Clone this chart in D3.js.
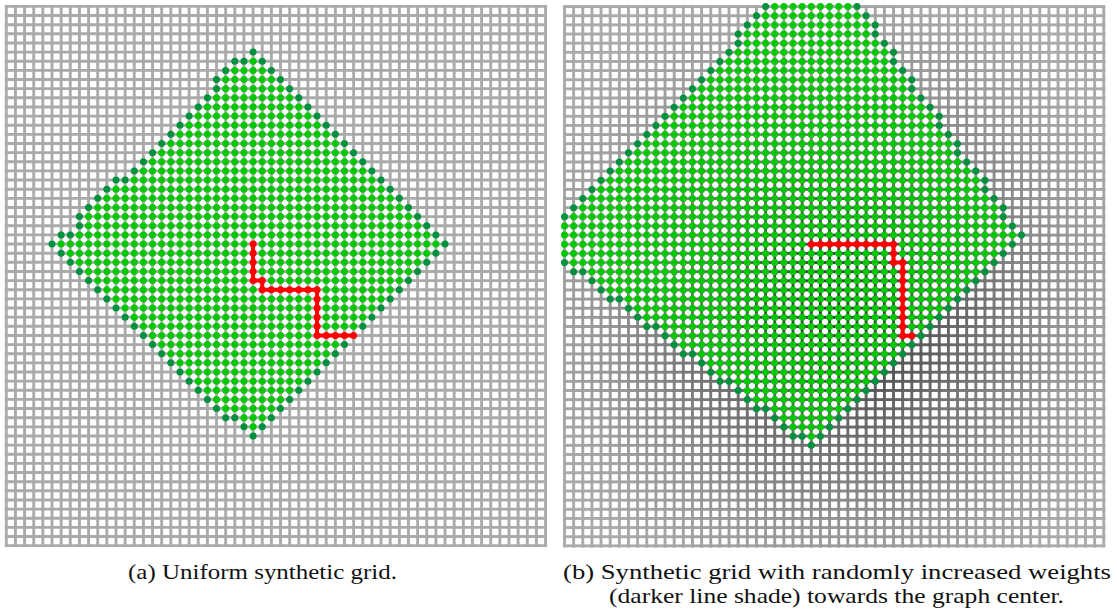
<!DOCTYPE html>
<html>
<head>
<meta charset="utf-8">
<script src="https://cdn.jsdelivr.net/npm/d3@7"></script>
<style>
  html, body { margin: 0; padding: 0; background: #fff; }
  svg { display: block; }
</style>
</head>
<body>
<svg id="fig" width="1117" height="615"></svg>
<script>
// 60 x 60 grid graph, nodes addressed as [column, row]
const gridSize = 60;

// (a) visited region: [row, first column, last column]
const regionA = [
  [5,27,27],[6,25,28],[7,24,29],[8,23,30],[9,23,31],[10,22,32],[11,21,33],
  [12,20,34],[13,19,35],[14,18,36],[15,17,37],[16,16,38],[17,15,39],[18,14,40],
  [19,12,41],[20,11,42],[21,10,43],[22,9,44],[23,8,45],[24,8,46],[25,6,47],
  [26,5,48],[27,6,47],[28,7,46],[29,8,45],[30,9,44],[31,10,43],[32,11,42],
  [33,12,41],[34,13,40],[35,14,39],[36,15,38],[37,16,37],[38,17,36],[39,18,35],
  [40,19,34],[41,20,33],[42,21,32],[43,22,31],[44,23,30],[45,24,29],[46,26,28],
  [47,27,27]
];
// (a) shortest path
const pathA = [[27,26],[27,30],[28,30],[28,31],[34,31],[34,36],[38,36]];

// (b) visited region: [row, first column, last column]
const regionB = [
  [0,22,32],[1,21,33],[2,20,34],[3,19,34],[4,19,35],[5,18,36],[6,17,36],
  [7,16,37],[8,15,38],[9,14,38],[10,13,39],[11,12,40],[12,11,41],[13,10,41],
  [14,9,42],[15,8,43],[16,7,43],[17,6,44],[18,5,45],[19,4,46],[20,3,46],
  [21,2,47],[22,1,48],[23,0,48],[24,0,49],[25,0,50],[26,0,49],[27,0,48],
  [28,0,47],[29,1,46],[30,3,45],[31,4,44],[32,5,43],[33,7,42],[34,8,41],
  [35,9,40],[36,11,39],[37,12,38],[38,13,37],[39,15,36],[40,16,35],[41,17,34],
  [42,19,33],[43,20,32],[44,21,31],[45,23,30],[46,24,29],[47,25,28],[48,27,27]
];
// (b) shortest path
const pathB = [[27,26],[36,26],[36,28],[37,28],[37,36],[38,36]];

// (b) mean edge shade by distance (in cells) from the heaviest spot
const shadeCentre = [29.5, 32];
const shadeRing = [0, 5, 10, 15, 20, 25, 30, 35];
const shadeGray = [58, 68, 88, 110, 132, 150, 162, 170];

const captionA = ["(a) Uniform synthetic grid."];
const captionB = ["(b) Synthetic grid with randomly increased weights",
                  "(darker line shade) towards the graph center."];

const STEP = 9.14;
const LINE_W = 2.9;
const baseGray = "#aaaaaa";
const lightGreen = "#00c800";
const darkGreen = "#00913c";
const red = "#ff0000";

const svg = d3.select("#fig");

function scales(x0, y0) {
  return {
    x: d3.scaleLinear().domain([0, gridSize - 1]).range([x0, x0 + (gridSize - 1) * STEP]),
    y: d3.scaleLinear().domain([0, gridSize - 1]).range([y0, y0 + (gridSize - 1) * STEP])
  };
}

function regionNodes(region) {
  const set = new Set();
  const nodes = [];
  region.forEach(([r, c0, c1]) => {
    for (let c = c0; c <= c1; c++) { set.add(c + "," + r); nodes.push([c, r]); }
  });
  // nodes with a grid neighbour outside the region form its frontier
  nodes.forEach(n => {
    const [c, r] = n;
    const nb = [[c-1,r],[c+1,r],[c,r-1],[c,r+1]]
      .filter(([a, b]) => a >= 0 && b >= 0 && a < gridSize && b < gridSize);
    n.frontier = nb.some(([a, b]) => !set.has(a + "," + b));
  });
  return nodes;
}

function drawDots(g, s, region, path) {
  const onPath = new Set();
  for (let i = 0; i < path.length - 1; i++) {
    const [c0, r0] = path[i], [c1, r1] = path[i + 1];
    const n = Math.max(Math.abs(c1 - c0), Math.abs(r1 - r0));
    for (let k = 0; k <= n; k++) {
      onPath.add((c0 + Math.sign(c1 - c0) * k) + "," + (r0 + Math.sign(r1 - r0) * k));
    }
  }
  const nodes = regionNodes(region);
  g.append("g").selectAll("circle")
    .data(nodes.filter(n => !onPath.has(n[0] + "," + n[1])))
    .join("circle")
    .attr("cx", d => s.x(d[0])).attr("cy", d => s.y(d[1])).attr("r", 3.5)
    .attr("fill", d => d.frontier ? darkGreen : lightGreen);

  const line = d3.line().x(d => s.x(d[0])).y(d => s.y(d[1]));
  g.append("path").datum(path).attr("d", line)
    .attr("fill", "none").attr("stroke", red).attr("stroke-width", 4)
    .attr("stroke-linejoin", "round");
  g.append("g").selectAll("circle")
    .data(Array.from(onPath).map(k => k.split(",").map(Number)))
    .join("circle")
    .attr("cx", d => s.x(d[0])).attr("cy", d => s.y(d[1])).attr("r", 3.5)
    .attr("fill", red);
}

// ---- panel (a): uniform grid ----
const sA = scales(6.3, 6.4);
const gA = svg.append("g");
const idx = d3.range(gridSize);
const half = LINE_W / 2;
gA.append("g").selectAll("line").data(idx).join("line")
  .attr("x1", d => sA.x(d)).attr("x2", d => sA.x(d))
  .attr("y1", sA.y(0) - half).attr("y2", sA.y(gridSize - 1) + half)
  .attr("stroke", baseGray).attr("stroke-width", LINE_W);
gA.append("g").selectAll("line").data(idx).join("line")
  .attr("y1", d => sA.y(d)).attr("y2", d => sA.y(d))
  .attr("x1", sA.x(0) - half).attr("x2", sA.x(gridSize - 1) + half)
  .attr("stroke", baseGray).attr("stroke-width", LINE_W);
drawDots(gA, sA, regionA, pathA);

// ---- panel (b): weighted grid ----
const sB = scales(564.5, 6.6);
const gB = svg.append("g");
const shadeScale = d3.scaleLinear().domain(shadeRing).range(shadeGray).clamp(true);
const edges = [];
for (let r = 0; r < gridSize; r++) {
  for (let c = 0; c < gridSize - 1; c++) {
    edges.push({a: [c, r], b: [c + 1, r]});
    edges.push({a: [r, c], b: [r, c + 1]});
  }
}
edges.forEach(e => {
  const mx = (e.a[0] + e.b[0]) / 2 - shadeCentre[0];
  const my = (e.a[1] + e.b[1]) / 2 - shadeCentre[1];
  e.g = shadeScale(Math.hypot(mx, my));
});
// lighter edges first so that darker ones sit on top at the crossings
edges.sort((p, q) => q.g - p.g);
gB.append("g").selectAll("line").data(edges).join("line")
  .attr("x1", d => sB.x(d.a[0]) - (d.a[1] === d.b[1] ? half : 0))
  .attr("x2", d => sB.x(d.b[0]) + (d.a[1] === d.b[1] ? half : 0))
  .attr("y1", d => sB.y(d.a[1]) - (d.a[0] === d.b[0] ? half : 0))
  .attr("y2", d => sB.y(d.b[1]) + (d.a[0] === d.b[0] ? half : 0))
  .attr("stroke", d => d3.rgb(d.g, d.g, d.g).formatHex())
  .attr("stroke-width", LINE_W);
drawDots(gB, sB, regionB, pathB);

// ---- captions ----
const capFont = "'Liberation Serif', 'Times New Roman', serif";
const capSize = 21;
svg.append("text").text(captionA[0])
  .attr("x", 128).attr("y", 579).attr("font-family", capFont).attr("font-size", capSize)
  .attr("textLength", 269).attr("lengthAdjust", "spacingAndGlyphs").attr("fill", "#111");
svg.append("text").text(captionB[0])
  .attr("x", 563).attr("y", 579).attr("font-family", capFont).attr("font-size", capSize)
  .attr("textLength", 548).attr("lengthAdjust", "spacingAndGlyphs").attr("fill", "#111");
svg.append("text").text(captionB[1])
  .attr("x", 609).attr("y", 603).attr("font-family", capFont).attr("font-size", capSize)
  .attr("textLength", 455).attr("lengthAdjust", "spacingAndGlyphs").attr("fill", "#111");
</script>
</body>
</html>
